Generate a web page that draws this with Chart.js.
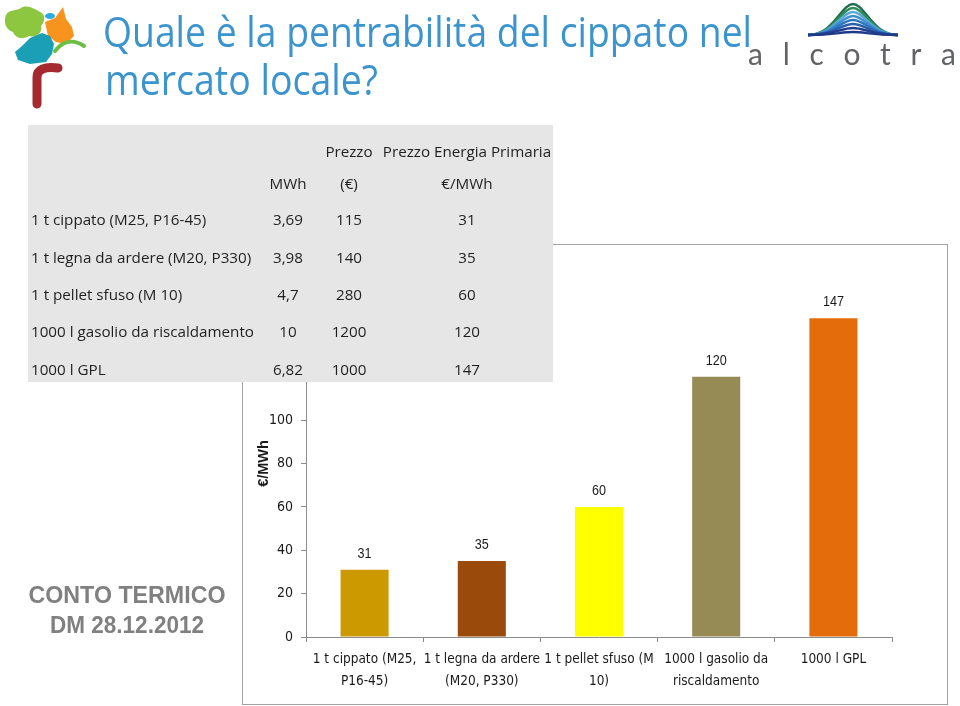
<!DOCTYPE html>
<html>
<head>
<meta charset="utf-8">
<script src="https://cdn.jsdelivr.net/npm/chart.js@4.4.1/dist/chart.umd.min.js"></script>
<style>
html,body{margin:0;padding:0;background:#fff;}
body{width:960px;height:706px;position:relative;overflow:hidden;}
#box{position:absolute;left:242px;top:244px;width:706px;height:461px;border:1px solid #a3a3a3;box-sizing:border-box;background:#fff;}
#box canvas{position:absolute;left:0;top:0;}
#overlay{position:absolute;left:0;top:0;width:960px;height:706px;pointer-events:none;}
</style>
</head>
<body>
<div id="box"><canvas id="c" width="704" height="459"></canvas></div>
<svg id="overlay" xmlns="http://www.w3.org/2000/svg" width="960" height="706" viewBox="0 0 960 706"></svg>
<script>
// ---- data ----
const tableLabels = ["1 t cippato (M25, P16-45)", "1 t legna da ardere (M20, P330)", "1 t pellet sfuso (M 10)", "1000 l gasolio da riscaldamento", "1000 l GPL"];
const xLabelLines = [["1 t cippato (M25,", "P16-45)"], ["1 t legna da ardere", "(M20, P330)"], ["1 t pellet sfuso (M", "10)"], ["1000 l gasolio da", "riscaldamento"], ["1000 l GPL"]];
const mwh = ["3,69", "3,98", "4,7", "10", "6,82"];
const prezzo = ["115", "140", "280", "1200", "1000"];
const values = [31, 35, 60, 120, 147];
const barColors = ["#CC9900", "#9A4A0A", "#FFFF00", "#968B54", "#E46C0A"];
const yTicks = [0, 20, 40, 60, 80, 100, 120, 140, 160];
const headerLine1 = ["", "", "Prezzo", "Prezzo Energia Primaria"];
const headerLine2 = ["", "MWh", "(\u20AC)", "\u20AC/MWh"];
const yTitle = "\u20AC/MWh";
const titleLines = ["Quale \u00E8 la pentrabilit\u00E0 del cippato nel", "mercato locale?"];
const sideNote = ["CONTO TERMICO", "DM 28.12.2012"];

const FONT = "'Liberation Sans Narrow', 'DejaVu Sans Condensed', 'Roboto Condensed', 'Liberation Sans', sans-serif";

// ---- chart ----
const valueLabels = {
  id: 'valueLabels',
  afterDatasetsDraw(chart) {
    const ctx = chart.ctx;
    const meta = chart.getDatasetMeta(0);
    meta.data.forEach((bar, i) => {
      ctx.save();
      ctx.font = "15px 'Liberation Sans', Arial, sans-serif";
      ctx.fillStyle = '#1a1a1a';
      ctx.textAlign = 'center';
      ctx.textBaseline = 'alphabetic';
      ctx.translate(bar.x, bar.y - 12);
      ctx.scale(0.84, 1);
      ctx.fillText(String(values[i]), 0, 0);
      ctx.restore();
    });
  }
};

new Chart(document.getElementById('c'), {
  type: 'bar',
  data: {
    labels: xLabelLines,
    datasets: [{
      data: values,
      backgroundColor: barColors,
      borderWidth: 0,
      barPercentage: 0.41,
      categoryPercentage: 1.0
    }]
  },
  options: {
    responsive: false,
    animation: false,
    devicePixelRatio: 1,
    layout: { padding: { top: 45, right: 55, left: 0, bottom: 0 } },
    plugins: { legend: { display: false }, tooltip: { enabled: false } },
    scales: {
      x: {
        grid: { display: true, drawOnChartArea: false, drawTicks: true, tickLength: 5, color: '#8c8c8c', offset: true },
        border: { display: true, color: '#8c8c8c', width: 1 },
        ticks: { color: '#1a1a1a', font: { family: FONT, size: 13.5, lineHeight: 1.67 }, padding: 6, maxRotation: 0, autoSkip: false },
        afterFit: s => { s.height = 67; }
      },
      y: {
        min: 0, max: 160,
        afterBuildTicks: s => { s.ticks = yTicks.map(v => ({ value: v })); },
        grid: { display: true, drawOnChartArea: false, drawTicks: true, tickLength: 5, color: '#8c8c8c' },
        border: { display: true, color: '#8c8c8c', width: 1 },
        ticks: { color: '#1a1a1a', font: { family: FONT, size: 14 }, padding: 8 },
        title: { display: true, text: yTitle, color: '#1a1a1a', font: { family: "'Liberation Sans', Arial, sans-serif", size: 14.5, weight: 'bold', lineHeight: 1.2 }, padding: { top: 12, bottom: 0 } },
        afterFit: s => { s.width = 63; }
      }
    }
  },
  plugins: [valueLabels]
});

// ---- overlay (title, logos, table, note) ----
const NS = 'http://www.w3.org/2000/svg';
const svg = document.getElementById('overlay');
function el(tag, attrs, text) {
  const e = document.createElementNS(NS, tag);
  for (const k in attrs) e.setAttribute(k, attrs[k]);
  if (text !== undefined) e.textContent = text;
  svg.appendChild(e);
  return e;
}

// left logo
el('path', { d: 'M6 15 C9 9 17 11 21 8 C27 4 35 9 40 12 C46 14 45 22 41 26 C43 32 37 38 29 36 C23 40 15 38 13 32 C6 30 3 22 6 15 Z', fill: '#8DC63F' });
el('ellipse', { cx: 50, cy: 16, rx: 5, ry: 3, fill: '#29ABE2' });
el('path', { d: 'M45 22 L55 18 L63 7 L66 19 L72 27 L74 36 L66 44 L56 42 L48 36 Z', fill: '#F7941D' });
el('path', { d: 'M30 38 L42 33 L50 36 L54 44 L52 54 L46 62 L30 64 L18 60 L15 52 L22 46 Z', fill: '#1A9FB6' });
el('path', { d: 'M55 51 C62 42 72 38 84 46', stroke: '#6CBE45', 'stroke-width': 4, fill: 'none', 'stroke-linecap': 'round' });
el('path', { d: 'M37 104 L37 77 C37 70 44 66 58 68', stroke: '#A42A30', 'stroke-width': 9, fill: 'none', 'stroke-linecap': 'round' });

// alcotra logo
const arcPeaks = [4, 8, 12, 16, 20, 24, 28, 32];
const arcCols = ['#1f6b52', '#2f8f5b', '#5aa7d8', '#3d8fd0', '#2f76c0', '#2a5fae', '#223f8f', '#1f3a86'];
arcPeaks.forEach((p, i) => {
  el('path', { d: `M808 35 C834 35 841 ${p} 853 ${p} C865 ${p} 872 35 898 35`, stroke: arcCols[i], 'stroke-width': 2.4, fill: 'none' });
});
el('text', { x: 748, y: 65, 'font-family': "Lato, 'Open Sans', sans-serif", 'font-weight': 400, 'font-size': 30, fill: '#626366', textLength: 208, lengthAdjust: 'spacing' }, 'alcotra');

// title
el('text', { x: 103, y: 47, 'font-family': "'Open Sans', Lato, sans-serif", 'font-size': 42, fill: '#3B94CE', textLength: 649, lengthAdjust: 'spacingAndGlyphs' }, titleLines[0]);
el('text', { x: 105, y: 95, 'font-family': "'Open Sans', Lato, sans-serif", 'font-size': 42, fill: '#3B94CE', textLength: 273, lengthAdjust: 'spacingAndGlyphs' }, titleLines[1]);

// side note
el('text', { x: 127, y: 603, 'text-anchor': 'middle', 'font-family': "'Liberation Sans', Arial, sans-serif", 'font-weight': 'bold', 'font-size': 23, fill: '#808080', textLength: 197, lengthAdjust: 'spacingAndGlyphs' }, sideNote[0]);
el('text', { x: 127, y: 633, 'text-anchor': 'middle', 'font-family': "'Liberation Sans', Arial, sans-serif", 'font-weight': 'bold', 'font-size': 23, fill: '#808080', textLength: 154, lengthAdjust: 'spacingAndGlyphs' }, sideNote[1]);

// table
el('rect', { x: 28, y: 125, width: 525, height: 257, fill: '#E6E6E6' });
const colX = [31, 288, 349, 467];
const TF = "'Open Sans', Lato, sans-serif";
const tStyle = { 'font-family': TF, 'font-size': 15.2, fill: '#1f1f1f' };
function tText(x, y, s, anchor) {
  if (!s) return;
  el('text', Object.assign({ x: x, y: y, 'text-anchor': anchor }, tStyle), s);
}
headerLine1.forEach((s, j) => tText(colX[j], 157, s, j === 0 ? 'start' : 'middle'));
headerLine2.forEach((s, j) => tText(colX[j], 189, s, j === 0 ? 'start' : 'middle'));
const rowY = [225, 262.5, 300, 337, 374.5];
tableLabels.forEach((lab, i) => {
  tText(colX[0], rowY[i], lab, 'start');
  tText(colX[1], rowY[i], mwh[i], 'middle');
  tText(colX[2], rowY[i], prezzo[i], 'middle');
  tText(colX[3], rowY[i], String(values[i]), 'middle');
});
</script>
</body>
</html>
